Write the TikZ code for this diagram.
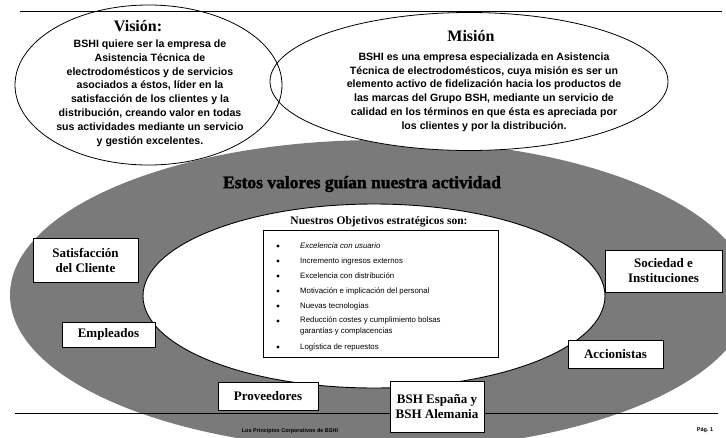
\documentclass[tikz,border=0pt]{standalone}
\usepackage{fontspec}
\setmainfont{Liberation Serif}
\newfontfamily\arialfont{Liberation Sans}
\newfontfamily\heavyserif{Liberation Serif}[FakeBold=2]
\tikzset{
  ringbox/.style={draw, fill=white, line width=0.9pt, inner sep=0pt, align=center,
    font=\bfseries\fontsize{13}{15}\selectfont},
  headtitle/.style={font=\bfseries\fontsize{16}{18}\selectfont},
  bodytext/.style={align=center, font=\arialfont\bfseries\fontsize{10.6}{13.8}\selectfont},
  itemtext/.style={anchor=west, inner sep=0pt, font=\arialfont\fontsize{7.8}{10.5}\selectfont},
  bulletdot/.style={circle, fill=black, inner sep=0pt, minimum size=3.4pt},
}
\begin{document}
\begin{tikzpicture}[x=1pt, y=-1pt]
  \useasboundingbox (0,0) rectangle (726,437);
  \clip (0,0) rectangle (726,437);
  \fill[black!52] (380,295) ellipse [x radius=370, y radius=155];
  \draw[fill=white, line width=0.9pt] (374,296) ellipse [x radius=231, y radius=92];
  \fill[white] (148.5,85) ellipse [x radius=133.5, y radius=80];
  \fill[white] (469,81.5) ellipse [x radius=199, y radius=69];
  \draw[line width=0.8pt] (148.5,85) ellipse [x radius=133.5, y radius=80];
  \draw[line width=0.8pt] (469,81.5) ellipse [x radius=199, y radius=69];
  \draw[line width=0.8pt] (20,11) -- (722,11);
  \draw[line width=0.8pt] (15,413) -- (718,413);

  \node[headtitle] (vision) at (138,26) {Visión:};
  \node[bodytext] (visiontxt) at (150,93) {BSHI quiere ser la empresa de\\Asistencia Técnica de\\electrodomésticos y de servicios\\asociados a éstos, líder en la\\satisfacción de los clientes y la\\distribución, creando valor en todas\\sus actividades mediante un servicio\\y gestión excelentes.};
  \node[headtitle] (mision) at (471,36) {Misión};
  \node[bodytext] (misiontxt) at (484,92) {BSHI es una empresa especializada en Asistencia\\Técnica de electrodomésticos, cuya misión es ser un\\elemento activo de fidelización hacia los productos de\\las marcas del Grupo BSH, mediante un servicio de\\calidad en los términos en que ésta es apreciada por\\los clientes y por la distribución.};

  \node[font=\heavyserif\bfseries\fontsize{17.5}{19}\selectfont] (valores) at (362,184) {Estos valores guían nuestra actividad};
  \node[font=\bfseries\fontsize{11.5}{13}\selectfont] (objetivos) at (379,222) {Nuestros Objetivos estratégicos son:};
  \draw[line width=0.6pt] (263,230) rectangle (498,357);

  \node[bulletdot] (b1) at (278,246) {};
  \node[bulletdot] (b2) at (278,261) {};
  \node[bulletdot] (b3) at (278,276) {};
  \node[bulletdot] (b4) at (278,291) {};
  \node[bulletdot] (b5) at (278,306) {};
  \node[bulletdot] (b6) at (278,321) {};
  \node[bulletdot] (b7) at (278,347) {};
  \node[itemtext] (o1) at (300,246) {\itshape Excelencia con usuario};
  \node[itemtext] (o2) at (300,261) {Incremento ingresos externos};
  \node[itemtext] (o3) at (300,276) {Excelencia con distribución};
  \node[itemtext] (o4) at (300,291) {Motivación e implicación del personal};
  \node[itemtext] (o5) at (300,306) {Nuevas tecnologías};
  \node[itemtext, anchor=north west, align=left] (o6) at (300,317) {Reducción costes y cumplimiento bolsas\\garantías y complacencias};
  \node[itemtext] (o7) at (300,347) {Logística de repuestos};

  \node[ringbox, minimum width=105pt, minimum height=44pt] (cliente) at (85.5,260) {Satisfacción\\del Cliente};
  \node[ringbox, minimum width=93pt, minimum height=25pt] (empleados) at (108.5,334.5) {Empleados};
  \node[ringbox, minimum width=117pt, minimum height=42pt] (sociedad) at (663.5,271) {Sociedad e\\Instituciones};
  \node[ringbox, minimum width=95pt, minimum height=28pt] (accionistas) at (615.5,354) {Accionistas};
  \node[ringbox, minimum width=100pt, minimum height=28pt] (proveedores) at (268,396) {Proveedores};
  \node[ringbox, minimum width=94pt, minimum height=51pt] (bsh) at (437,406.5) {BSH España y\\BSH Alemania};

  \node[font=\arialfont\bfseries\fontsize{5.5}{6}\selectfont] (pie) at (290,431) {Los Principios Corporativos de BSHI};
  \node[font=\arialfont\bfseries\fontsize{5.5}{6}\selectfont] (pagina) at (705,430) {Pág.\ 1};
\end{tikzpicture}
\end{document}
